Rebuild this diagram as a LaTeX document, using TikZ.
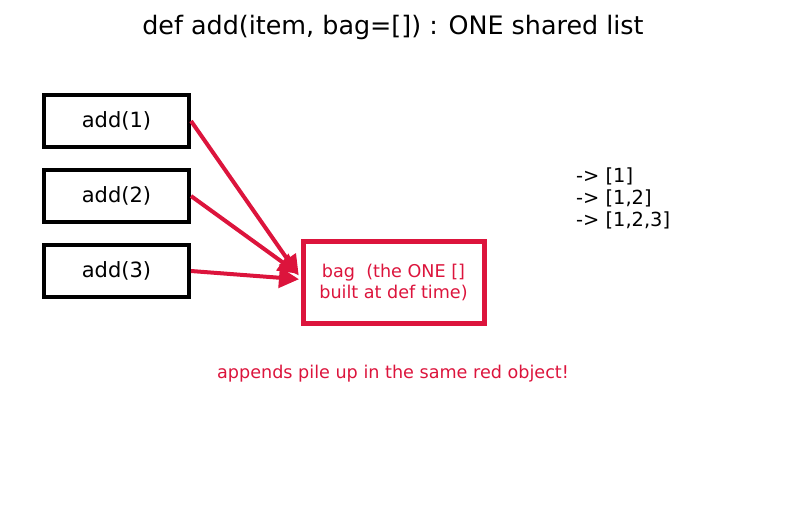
\documentclass[tikz,border=0pt]{standalone}
\usepackage{fontspec}
\setmainfont{DejaVu Sans}
\usetikzlibrary{arrows.meta}
\definecolor{crim}{HTML}{DC143C}
\begin{document}
\begin{tikzpicture}[x=1pt,y=-1pt,
  callbox/.style={draw=black,line width=4pt,minimum width=145pt,minimum height=52pt,inner sep=0pt,font=\fontsize{21}{25}\selectfont},
  bagbox/.style={draw=crim,line width=5pt,minimum width=181pt,minimum height=82pt,inner sep=0pt,text=crim,align=center,font=\fontsize{17.6}{21}\selectfont},
  link/.style={draw=crim,line width=4pt,-{Triangle[length=20pt,width=20pt]},shorten >=-3pt}]
\useasboundingbox (0,0) rectangle (787,512);
\node (title) at (393,27.5) {\fontsize{25.4}{30}\selectfont def add(item, bag=[]) : ONE shared list};
\node[callbox] (a1) at (116.5,121) {add(1)};
\node[callbox] (a2) at (116.5,196) {add(2)};
\node[callbox] (a3) at (116.5,271) {add(3)};
\node[bagbox] (bag) at (393.5,282) {bag\ \ (the ONE []\\built at def time)};
\coordinate (t1) at (297,273);
\coordinate (t2) at (296,272);
\coordinate (t3) at (296,279);
\draw[link] (a1.east) -- (t1);
\draw[link] (a2.east) -- (t2);
\draw[link] (a3.east) -- (t3);
\node[anchor=west,align=left,inner sep=0pt,font=\fontsize{19.4}{22}\selectfont] (res) at (576,198) {-> [1]\\-> [1,2]\\-> [1,2,3]};
\node[text=crim,font=\fontsize{17.6}{21}\selectfont] (note) at (393,373.5) {appends pile up in the same red object!};
\end{tikzpicture}
\end{document}
